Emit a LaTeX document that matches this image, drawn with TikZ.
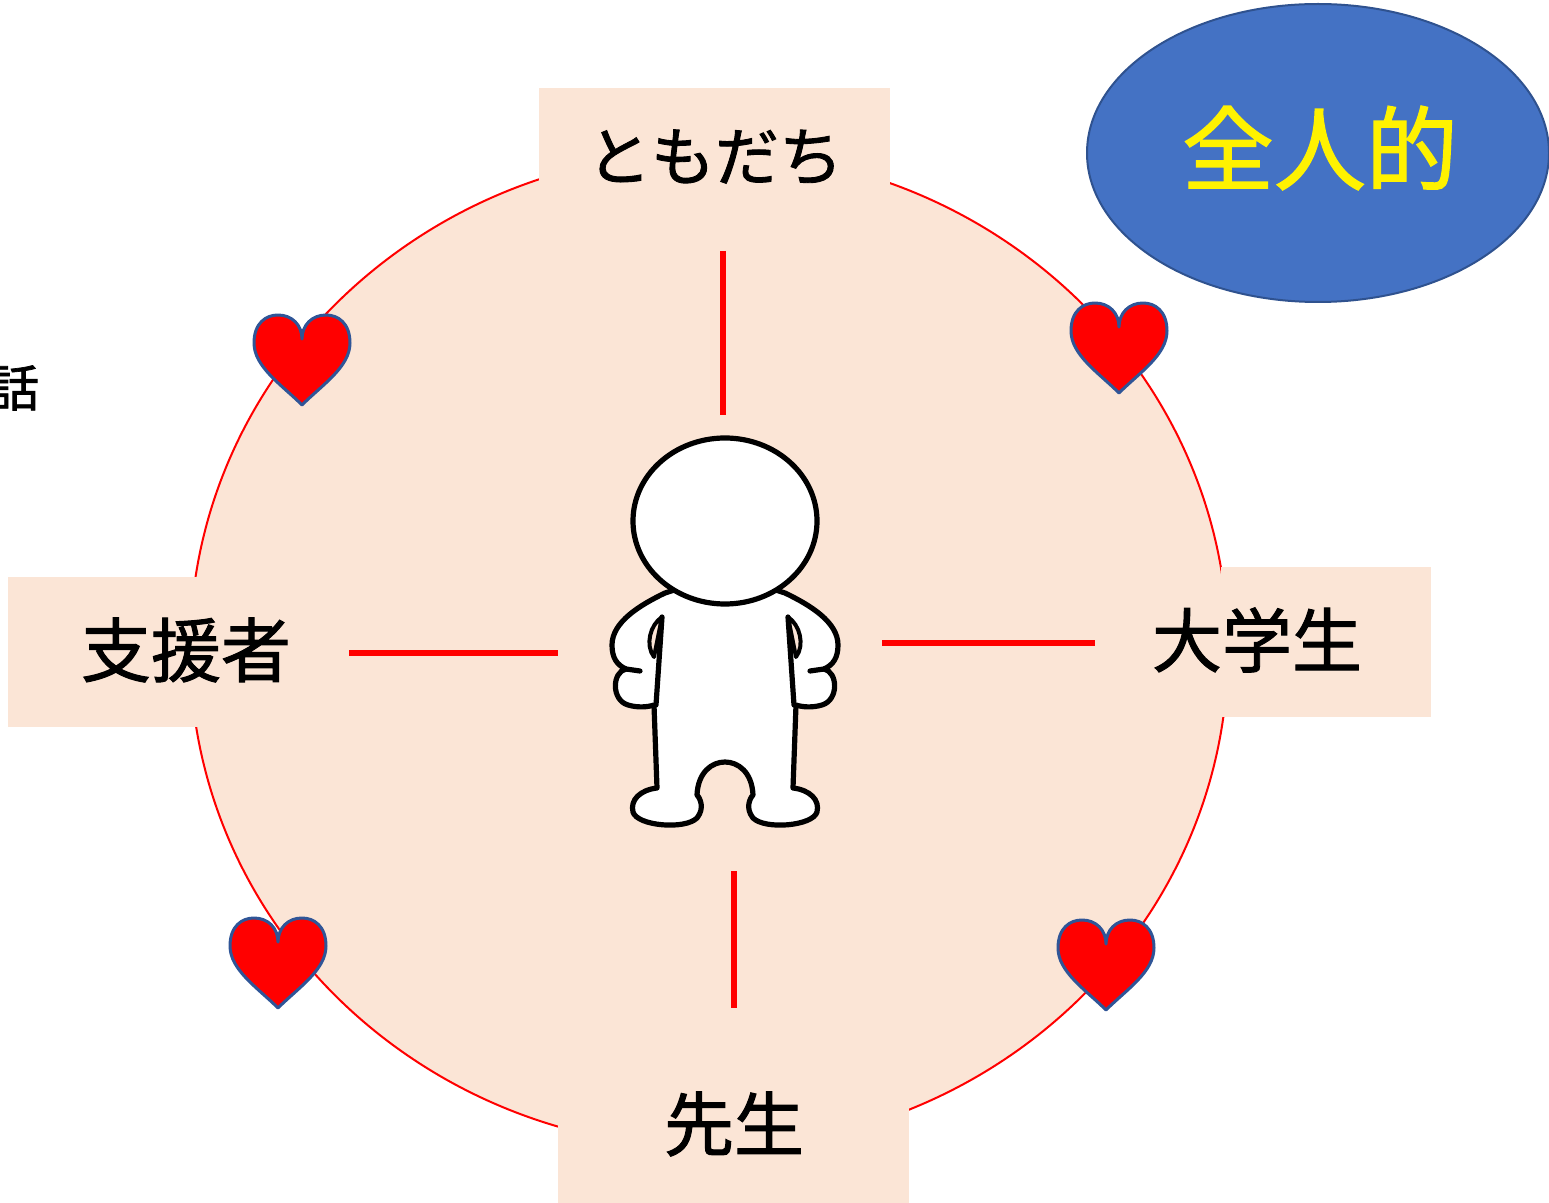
\documentclass[tikz,border=0pt]{standalone}
\usepackage{fontspec}
\newfontfamily\jpfont[FakeBold=1.4]{Noto Sans CJK JP}
\usetikzlibrary{shapes.geometric}
\definecolor{peach}{HTML}{FBE5D6}
\definecolor{ringred}{HTML}{FF0000}
\definecolor{heartedge}{HTML}{2F5597}
\definecolor{ovalblue}{HTML}{4472C4}
\definecolor{ovaledge}{HTML}{2F528F}
\tikzset{
  namebox/.style={fill=peach, draw=none, inner sep=0pt},
  label/.style={font=\jpfont\fontsize{35pt}{35pt}\selectfont, text=black},
  tie/.style={draw=ringred, line width=3pt},
  outline/.style={draw=black, line width=2.6pt, line join=round, line cap=round},
  heart/.pic={
    \path[fill=ringred, draw=heartedge, line width=1.5pt, line join=round]
      (0,90) .. controls (-20,70) and (-48,52) .. (-48,28)
      .. controls (-48,8) and (-36,0) .. (-24,0)
      .. controls (-10,0) and (0,10) .. (0,24)
      .. controls (0,10) and (10,0) .. (24,0)
      .. controls (36,0) and (48,8) .. (48,28)
      .. controls (48,52) and (20,70) .. (0,90) -- cycle;
  }
}
\begin{document}
\begin{tikzpicture}[x=0.5pt,y=-0.5pt]
\useasboundingbox (0,0) rectangle (1549,1203);

% the ring of relations
\node[ellipse, fill=peach, draw=ringred, line width=1pt,
      minimum width=1038pt*0.5, minimum height=996pt*0.5, inner sep=0pt] (ring) at (709,650) {};

% name boxes on the ring
\node[namebox, minimum width=175.5pt, minimum height=75pt] (friendsbox) at (714.5,163) {};
\node[namebox, minimum width=95pt, minimum height=75pt, anchor=north west] (helperbox) at (8,577) {};
\node[namebox, minimum width=105pt, minimum height=75pt, anchor=north east] (studentbox) at (1431,567) {};
\node[namebox, minimum width=175.5pt, minimum height=50pt, anchor=south] (teacherbox) at (733.5,1203) {};

\node[label, font=\jpfont\fontsize{32pt}{32pt}\selectfont] (friends) at (715,157) {ともだち};
\node[label] (helper) at (186,650) {支援者};
\node[label] (student) at (1257,640) {大学生};
\node[label] (teacher) at (734,1124) {先生};
\node[label, font=\jpfont\fontsize{25pt}{25pt}\selectfont] (talk) at (14,388) {話};

% red ties between the person and each name
\coordinate (t1) at (723,251); \coordinate (t2) at (723,415);
\coordinate (l1) at (349,653); \coordinate (l2) at (558,653);
\coordinate (r1) at (882,643); \coordinate (r2) at (1095,643);
\coordinate (b1) at (734,871); \coordinate (b2) at (734,1008);
\draw[tie] (t1) -- (t2);
\draw[tie] (l1) -- (l2);
\draw[tie] (r1) -- (r2);
\draw[tie] (b1) -- (b2);

% the person
\path[outline, fill=white]
  (690,585) -- (665,593)
  .. controls (640,605) and (612,622) .. (612,645)
  .. controls (612,658) and (617,665) .. (626,669)
  .. controls (612,672) and (611,700) .. (628,705)
  .. controls (638,708) and (648,707) .. (654,705)
  -- (657,788)
  .. controls (640,790) and (630,800) .. (633,812)
  .. controls (637,826) and (685,830) .. (697,818)
  .. controls (705,808) and (700,798) .. (697,795)
  .. controls (698,772) and (712,762) .. (725,762)
  .. controls (738,762) and (752,772) .. (753,795)
  .. controls (750,798) and (745,808) .. (753,818)
  .. controls (765,830) and (813,826) .. (817,812)
  .. controls (820,800) and (810,790) .. (793,788)
  -- (796,705)
  .. controls (802,707) and (812,708) .. (822,705)
  .. controls (839,700) and (838,672) .. (824,669)
  .. controls (833,665) and (838,658) .. (838,645)
  .. controls (838,622) and (810,605) .. (785,593)
  -- (760,585) -- cycle;
\path[outline, fill=peach, line width=2pt]
  (662,617) .. controls (650,625) and (645,645) .. (654,657) -- cycle;
\path[outline, fill=peach, line width=2pt]
  (788,617) .. controls (800,625) and (805,645) .. (796,657) -- cycle;
\draw[outline] (662,617) -- (656,705);
\draw[outline] (788,617) -- (794,705);
\draw[outline] (626,669) -- (640,671);
\draw[outline] (824,669) -- (810,671);
\node[ellipse, outline, fill=white, minimum width=92pt, minimum height=83pt, inner sep=0pt] (head) at (725,521) {};

% hearts on the ring
\pic (heartTL) at (302,315) {heart};
\pic (heartTR) at (1119,303) {heart};
\pic (heartBL) at (278,918) {heart};
\pic (heartBR) at (1106,920) {heart};

% the blue oval
\node[ellipse, fill=ovalblue, draw=ovaledge, line width=1pt,
      minimum width=231pt, minimum height=149pt, inner sep=0pt] (oval) at (1318,153) {};
\node[font=\jpfont\fontsize{46pt}{46pt}\selectfont, text=yellow] (whole) at (1320,148) {全人的};
\end{tikzpicture}
\end{document}
